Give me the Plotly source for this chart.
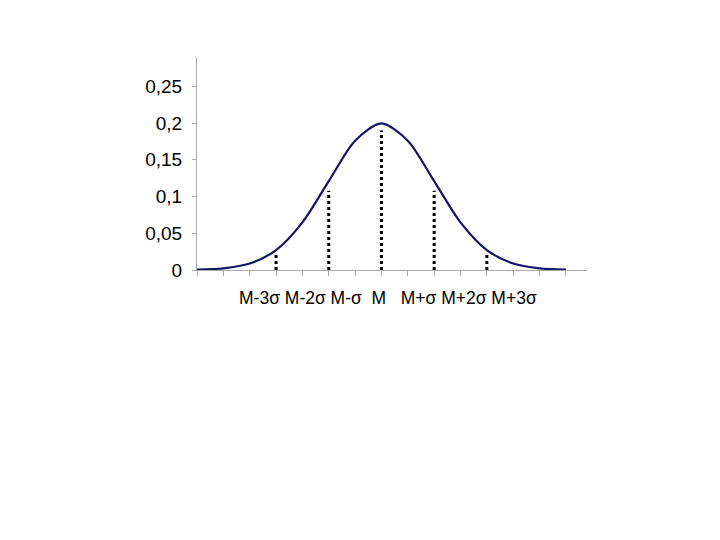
import plotly.graph_objects as go

x_vals = [-7, -6, -5, -4, -3, -2, -1, 0, 1, 2, 3, 4, 5, 6, 7]
y_vals = [0.0004, 0.0022, 0.0088, 0.0270, 0.0648, 0.1210, 0.1760, 0.1995,
          0.1760, 0.1210, 0.0648, 0.0270, 0.0088, 0.0022, 0.0004]
mark_x = [-4, -2, 0, 2, 4]
mark_y = [0.0240, 0.1080, 0.1900, 0.1080, 0.0240]
y_ticks = [0, 0.05, 0.1, 0.15, 0.2, 0.25]
y_labels = ["0", "0,05", "0,1", "0,15", "0,2", "0,25"]
x_label_text = "M-3σ M-2σ M-σ  M   M+σ M+2σ M+3σ"

fig = go.Figure()
for mx, my in zip(mark_x, mark_y):
    fig.add_trace(go.Scatter(x=[mx, mx], y=[0, my], mode="lines",
                             line=dict(color="black", width=3, dash="dot"),
                             showlegend=False, hoverinfo="skip"))
fig.add_trace(go.Scatter(x=x_vals, y=y_vals, mode="lines",
                         line=dict(color="#141464", width=2.2, shape="spline", smoothing=0.8),
                         showlegend=False))
fig.add_annotation(x=0, y=0, xref="x", yref="y", text=x_label_text, showarrow=False,
                   yshift=-28, xshift=7, font=dict(family="Arial, Liberation Sans", size=17.5, color="black"))
fig.update_layout(
    width=720, height=540, margin=dict(l=189, r=141, t=49, b=278),
    plot_bgcolor="white", paper_bgcolor="white",
    font=dict(family="Arial, Liberation Sans", color="black"),
)
fig.update_xaxes(range=[-7, 7.8], showgrid=False, zeroline=False, showline=True,
                 linecolor="#aaaaaa", linewidth=1, tickmode="array", tickvals=list(range(-7, 8)),
                 ticks="outside", ticklen=5, tickcolor="#aaaaaa", showticklabels=False)
fig.update_yaxes(range=[0, 0.29], showgrid=False, zeroline=False, showline=True,
                 linecolor="#aaaaaa", linewidth=1, tickmode="array", tickvals=y_ticks,
                 ticktext=y_labels, ticks="outside", ticklen=4, tickcolor="#aaaaaa",
                 tickfont=dict(size=19), ticklabelstandoff=6)
fig.write_html("out.html")
